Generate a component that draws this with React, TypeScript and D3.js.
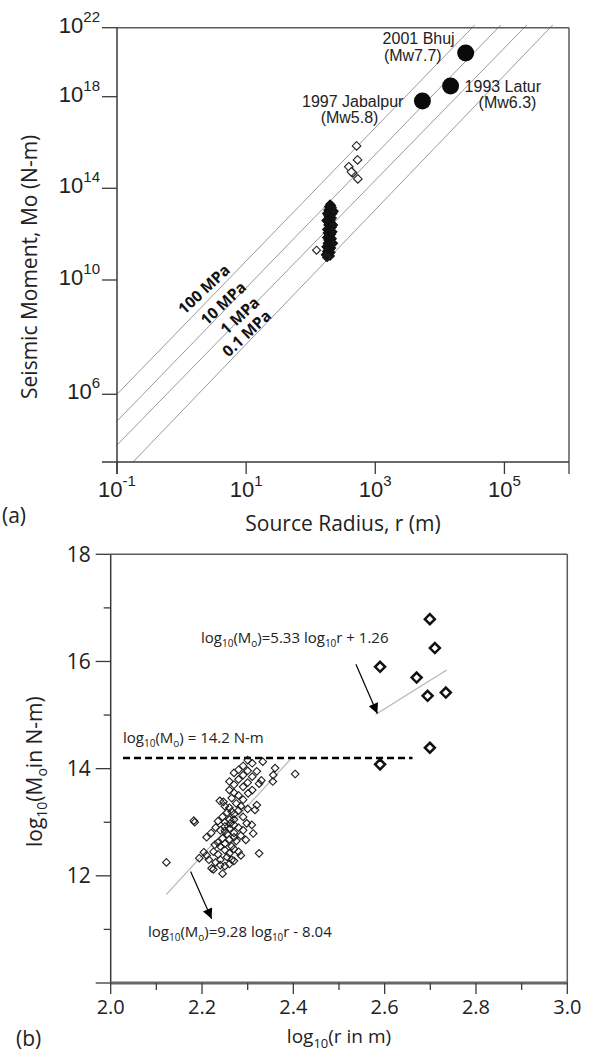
import React from "react";
import * as d3 from "d3";

// ---------- Panel (a) data ----------
const quakeNames = ["2001 Bhuj", "1993 Latur", "1997 Jabalpur"];
const quakeMw = ["(Mw7.7)", "(Mw6.3)", "(Mw5.8)"];
const quakeRadius = [25100, 14660, 5370]; // m
const quakeMoment = [3.4e20, 4.2e18, 6.5e17]; // N-m

// larger events (open diamonds), log10 r and log10 Mo
const topBigLogR = [2.71, 2.725, 2.59, 2.65, 2.73, 2.63];
const topBigLogM = [15.85, 15.24, 14.94, 14.67, 14.41, 14.72];

// dense cluster of small events (log10 r, log10 Mo)
const topClusterLogR = [
  2.30, 2.32, 2.28, 2.33, 2.30, 2.27, 2.32, 2.29, 2.34, 2.31, 2.27, 2.30, 2.33, 2.28, 2.31, 2.26,
  2.29, 2.32, 2.27, 2.30, 2.33, 2.28, 2.25, 2.31, 2.29, 2.26, 2.32, 2.28, 2.30, 2.25, 2.33, 2.27,
  2.29, 2.31, 2.26, 2.28, 2.30, 2.24, 2.32, 2.27, 2.29, 2.25, 2.31, 2.28, 2.23, 2.30, 2.26,
  2.35, 2.34, 2.35, 2.24, 2.25, 2.36,
];
const topClusterLogM = [
  13.3, 13.25, 13.2, 13.15, 13.1, 13.05, 13.0, 12.95, 12.9, 12.85, 12.8, 12.75, 12.7, 12.65, 12.6, 12.55,
  12.5, 12.45, 12.4, 12.35, 12.3, 12.25, 12.2, 12.15, 12.1, 12.05, 12.0, 11.95, 11.9, 11.85, 11.8, 11.75,
  11.7, 11.65, 11.6, 11.55, 11.5, 11.45, 11.4, 11.35, 11.3, 11.25, 11.2, 11.15, 11.1, 11.05, 11.0,
  12.4, 12.1, 11.6, 12.6, 12.9, 13.0,
];
// a few outlying events at the base of the cluster
const topOutLogR = [2.09, 2.245];
const topOutLogM = [11.3, 10.98];

// stress-drop reference lines
const stressLabels = ["100 MPa", "10 MPa", "1 MPa", "0.1 MPa"];
const stressStartLogR = [-1, -1, -1, -0.752];
const stressStartLogM = [6.0, 4.81, 3.75, 3.0];
const stressEndLogR = [4.542, 4.944, 5.347, 5.749];
const stressEndLogM = [22.16, 22.16, 22.16, 22.16];
const stressLabelLogR = [0.347, 0.646, 0.904, 1.008];
const stressLabelLogM = [9.674, 9.18, 8.75, 8.13];

// axis ticks panel (a)
const topXTickExp = [-1, 1, 3, 5];
const topYTickExp = [22, 18, 14, 10, 6];
const topYDomainExp = [3, 6, 10, 14, 18, 22];

// ---------- Panel (b) data ----------
const bigLogR = [2.699, 2.71, 2.59, 2.67, 2.694, 2.734, 2.699, 2.59];
const bigLogM = [16.79, 16.25, 15.9, 15.7, 15.36, 15.42, 14.39, 14.08];

const smallLogR = [
  2.30, 2.31, 2.29, 2.28, 2.30, 2.27, 2.29, 2.31, 2.28, 2.26, 2.30, 2.27, 2.29, 2.333, 2.36, 2.356,
  2.355, 2.404, 2.32, 2.325, 2.31, 2.33,
  2.239, 2.247, 2.25, 2.26, 2.265, 2.27, 2.26, 2.275, 2.28, 2.29, 2.301, 2.32, 2.316, 2.255, 2.27,
  2.28, 2.245, 2.26, 2.235, 2.25, 2.27, 2.29, 2.30, 2.285, 2.265,
  2.182, 2.184, 2.21, 2.22, 2.23, 2.24, 2.25, 2.26, 2.27, 2.28, 2.298, 2.309, 2.312, 2.296, 2.285,
  2.27, 2.255, 2.245, 2.235, 2.25, 2.26, 2.275, 2.265, 2.24, 2.228, 2.27, 2.29, 2.25, 2.262,
  2.122, 2.194, 2.204, 2.21, 2.225, 2.235, 2.25, 2.26, 2.27, 2.28, 2.24, 2.255, 2.265, 2.221, 2.225,
  2.245, 2.24, 2.25, 2.26, 2.27, 2.325, 2.23, 2.215, 2.285,
];
const smallLogM = [
  14.16, 14.1, 14.05, 13.98, 13.96, 13.92, 13.88, 13.85, 13.8, 13.76, 13.74, 13.7, 13.66, 14.13, 14.01, 13.88,
  13.76, 13.9, 13.95, 13.72, 13.6, 13.78,
  13.4, 13.38, 13.3, 13.27, 13.45, 13.55, 13.6, 13.35, 13.5, 13.42, 13.54, 13.32, 13.23, 13.18, 13.15,
  13.22, 13.1, 13.05, 13.02, 13.0, 13.05, 13.1, 13.25, 13.3, 13.2,
  13.03, 13.0, 12.72, 12.8, 12.9, 12.85, 12.92, 12.88, 12.95, 12.9, 12.98, 12.95, 12.79, 12.67, 12.75,
  12.8, 12.78, 12.7, 12.62, 12.6, 12.68, 12.65, 12.55, 12.55, 12.58, 12.72, 12.85, 12.84, 12.98,
  12.25, 12.33, 12.44, 12.38, 12.45, 12.4, 12.48, 12.42, 12.5, 12.45, 12.3, 12.35, 12.3, 12.14, 12.12,
  12.04, 12.2, 12.18, 12.22, 12.28, 12.42, 12.25, 12.3, 12.38,
];

const thresholdLogM = 14.2;
const thresholdRange = [2.027, 2.661];

const fitUpper = { slope: 5.33, intercept: 1.26, from: 2.58, to: 2.736 };
const fitLower = { slope: 9.28, intercept: -8.04, from: 2.122, to: 2.396 };

const arrowUpper = { x0: 2.537, y0: 15.95, x1: 2.584, y1: 15.03 };
const arrowLower = { x0: 2.175, y0: 12.08, x1: 2.221, y1: 11.2 };

const botXMajor = [2.0, 2.2, 2.4, 2.6, 2.8, 3.0];
const botXMinor = [2.1, 2.3, 2.5, 2.7, 2.9];
const botYMajor = [10, 12, 14, 16, 18];
const botYLabeled = [12, 14, 16, 18];
const botYMinor = [11, 13, 15, 17];

// ---------- Layout ----------
const W = 591;
const H = 1059;
const A = { left: 117, right: 569, top: 27.7, bottom: 462 };
const B = { left: 110.7, right: 567.3, top: 554.3, bottom: 983 };

const sansA = "'Liberation Sans', Arial, sans-serif";
const sansB = "'Open Sans', 'Noto Sans', sans-serif";

export default function App() {
  // panel (a) scales
  const xA = d3.scaleLog().domain([0.1, 1e6]).range([A.left, A.right]);
  const yA = d3
    .scaleLog()
    .domain(topYDomainExp.map((e) => Math.pow(10, e)))
    .range([A.bottom, 394.3, 280, 188.3, 96.7, A.top]);
  const pxA = (lr: number) => xA(Math.pow(10, lr));
  const pyA = (lm: number) => yA(Math.pow(10, lm));

  // panel (b) scales
  const xB = d3.scaleLinear().domain([2, 3]).range([B.left, B.right]);
  const yB = d3.scaleLinear().domain([10, 18]).range([B.bottom, B.top]);

  const diamond = (cx: number, cy: number, s: number) =>
    `M${cx},${cy - s}L${cx + s},${cy}L${cx},${cy + s}L${cx - s},${cy}Z`;

  const line = d3.line<[number, number]>();

  const axisCol = "#3a3a3a";
  const frameCol = "#5a5a5a";

  return (
    <svg
      width={W}
      height={H}
      style={{ position: "absolute", left: 0, top: 0, background: "#fff" }}
    >
      <defs>
        <marker
          id="arrowhead"
          viewBox="0 0 10 10"
          refX="10"
          refY="5"
          markerWidth="16"
          markerHeight="10"
          markerUnits="userSpaceOnUse"
          orient="auto"
        >
          <path d="M0,0L10,5L0,10Z" fill="#000" />
        </marker>
      </defs>

      {/* ================= Panel (a) ================= */}
      {stressLabels.map((lab, i) => (
        <path
          key={"sl" + i}
          d={
            line([
              [pxA(stressStartLogR[i]), pyA(stressStartLogM[i])],
              [pxA(stressEndLogR[i]), pyA(stressEndLogM[i])],
            ]) || ""
          }
          stroke="#9a9a9a"
          strokeWidth={1}
          fill="none"
        />
      ))}
      {stressLabels.map((lab, i) => (
        <text
          key={"st" + i}
          transform={`translate(${pxA(stressLabelLogR[i])},${pyA(stressLabelLogM[i])}) rotate(-43)`}
          textAnchor="middle"
          dy="0.35em"
          fontFamily={sansB}
          fontWeight={700}
          fontSize={15.5}
          fill="#111"
        >
          {lab}
        </text>
      ))}

      {/* frame & axes */}
      <line x1={A.left} x2={A.right} y1={A.top} y2={A.top} stroke={frameCol} strokeWidth={1.5} />
      <line x1={A.right} x2={A.right} y1={A.top} y2={A.bottom + 12} stroke={frameCol} strokeWidth={1.5} />
      <line x1={A.left - 15} x2={A.right} y1={A.bottom} y2={A.bottom} stroke={axisCol} strokeWidth={1.5} />
      <line x1={A.left} x2={A.left} y1={A.top} y2={A.bottom + 12} stroke={axisCol} strokeWidth={1.5} />
      {topYTickExp.map((e) => (
        <g key={"yt" + e}>
          <line
            x1={A.left - 15}
            x2={A.left}
            y1={pyA(e)}
            y2={pyA(e)}
            stroke={axisCol}
            strokeWidth={1.3}
          />
          <text
            x={A.left - 17}
            y={pyA(e) + 5}
            textAnchor="end"
            fontFamily={sansA}
            fontSize={22}
            fill="#222"
          >
            10
            <tspan dy={-11} fontSize={15}>
              {e}
            </tspan>
          </text>
        </g>
      ))}
      {topXTickExp.map((e) => (
        <g key={"xt" + e}>
          <line
            x1={pxA(e)}
            x2={pxA(e)}
            y1={A.bottom}
            y2={A.bottom + 12}
            stroke={axisCol}
            strokeWidth={1.3}
          />
          <text
            x={pxA(e)}
            y={A.bottom + 35}
            textAnchor="middle"
            fontFamily={sansA}
            fontSize={22}
            fill="#222"
          >
            10
            <tspan dy={-11} fontSize={15}>
              {e < 0 ? "-" + Math.abs(e) : e}
            </tspan>
          </text>
        </g>
      ))}
      <text
        x={(A.left + A.right) / 2}
        y={531}
        textAnchor="middle"
        fontFamily={sansB}
        fontSize={21}
        fill="#222"
      >
        Source Radius, r (m)
      </text>
      <text
        transform={`translate(37,${(A.top + A.bottom) / 2 + 22}) rotate(-90)`}
        textAnchor="middle"
        fontFamily={sansB}
        fontSize={21}
        fill="#222"
      >
        Seismic Moment, Mo (N-m)
      </text>
      <text x={2} y={523} fontFamily={sansB} fontSize={21} fill="#222">
        (a)
      </text>

      {/* cluster */}
      {topClusterLogR.map((r, i) => (
        <path
          key={"tc" + i}
          d={diamond(pxA(r), pyA(topClusterLogM[i]), 4.2)}
          fill="#151515"
          stroke="#111"
          strokeWidth={1.2}
        />
      ))}
      {topOutLogR.map((r, i) => (
        <path
          key={"to" + i}
          d={diamond(pxA(r), pyA(topOutLogM[i]), 4)}
          fill="none"
          stroke="#222"
          strokeWidth={1.1}
        />
      ))}
      {topBigLogR.map((r, i) => (
        <path
          key={"tb" + i}
          d={diamond(pxA(r), pyA(topBigLogM[i]), 4.3)}
          fill="#fff"
          stroke="#222"
          strokeWidth={1.1}
        />
      ))}
      {/* major quakes */}
      {quakeNames.map((n, i) => (
        <circle
          key={"q" + i}
          cx={xA(quakeRadius[i])}
          cy={yA(quakeMoment[i])}
          r={8.5}
          fill="#0a0a0a"
        />
      ))}
      {(() => {
        const off = [
          { a: "end", dx1: -11, dy1: -9, dx2: -24, dy2: 8 },
          { a: "start", dx1: 14, dy1: 6, dx2: 28, dy2: 22 },
          { a: "end", dx1: -19, dy1: 6, dx2: -44, dy2: 22 },
        ];
        return quakeNames.map((n, i) => {
          const cx = xA(quakeRadius[i]);
          const cy = yA(quakeMoment[i]);
          const o = off[i];
          return (
            <g key={"ql" + i} fontFamily={sansA} fontSize={16} fill="#222">
              <text x={cx + o.dx1} y={cy + o.dy1} textAnchor={o.a as any}>
                {n}
              </text>
              <text x={cx + o.dx2} y={cy + o.dy2} textAnchor={o.a as any}>
                {quakeMw[i]}
              </text>
            </g>
          );
        });
      })()}

      {/* ================= Panel (b) ================= */}
      <line x1={B.left} x2={B.right} y1={B.top} y2={B.top} stroke={frameCol} strokeWidth={1.5} />
      <line x1={B.right} x2={B.right} y1={B.top} y2={B.bottom} stroke={frameCol} strokeWidth={1.5} />
      <line x1={B.left} x2={B.left} y1={B.top} y2={B.bottom} stroke={axisCol} strokeWidth={1.5} />
      <line x1={B.left} x2={B.right} y1={B.bottom} y2={B.bottom} stroke="#666" strokeWidth={3} />
      {botYMajor.map((v) => (
        <line
          key={"byt" + v}
          x1={B.left - 15}
          x2={B.left}
          y1={yB(v)}
          y2={yB(v)}
          stroke={axisCol}
          strokeWidth={1.3}
        />
      ))}
      {botYMinor.map((v) => (
        <line
          key={"bym" + v}
          x1={B.left - 7}
          x2={B.left}
          y1={yB(v)}
          y2={yB(v)}
          stroke={axisCol}
          strokeWidth={1.3}
        />
      ))}
      {botYLabeled.map((v) => (
        <text
          key={"byl" + v}
          x={B.left - 20}
          y={yB(v) + 7.5}
          textAnchor="end"
          fontFamily={sansB}
          fontSize={21}
          fill="#222"
        >
          {v}
        </text>
      ))}
      {botXMajor.map((v) => (
        <g key={"bxt" + v}>
          <line
            x1={xB(v)}
            x2={xB(v)}
            y1={B.bottom}
            y2={B.bottom + 11}
            stroke={axisCol}
            strokeWidth={1.3}
          />
          <text
            x={xB(v)}
            y={1014}
            textAnchor="middle"
            fontFamily={sansB}
            fontSize={20}
            fill="#222"
          >
            {v.toFixed(1)}
          </text>
        </g>
      ))}
      {botXMinor.map((v) => (
        <line
          key={"bxm" + v}
          x1={xB(v)}
          x2={xB(v)}
          y1={B.bottom}
          y2={B.bottom + 7}
          stroke={axisCol}
          strokeWidth={1.3}
        />
      ))}
      <text
        x={(B.left + B.right) / 2}
        y={1043}
        textAnchor="middle"
        fontFamily={sansB}
        fontSize={19}
        fill="#222"
      >
        log
        <tspan dy={5} fontSize={13}>
          10
        </tspan>
        <tspan dy={-5}>(r in m)</tspan>
      </text>
      <text
        transform={`translate(42,${(B.top + B.bottom) / 2 + 3}) rotate(-90)`}
        textAnchor="middle"
        fontFamily={sansB}
        fontSize={21}
        fill="#222"
      >
        log
        <tspan dy={5} fontSize={14}>
          10
        </tspan>
        <tspan dy={-5}>(M</tspan>
        <tspan dy={5} fontSize={14}>
          o
        </tspan>
        <tspan dy={-5}>in N-m)</tspan>
      </text>
      <text x={16} y={1046} fontFamily={sansB} fontSize={21} fill="#222">
        (b)
      </text>

      {/* fit lines */}
      {[fitUpper, fitLower].map((f, i) => (
        <path
          key={"fit" + i}
          d={
            line([
              [xB(f.from), yB(f.slope * f.from + f.intercept)],
              [xB(f.to), yB(f.slope * f.to + f.intercept)],
            ]) || ""
          }
          stroke="#b5b5b5"
          strokeWidth={1.2}
          fill="none"
        />
      ))}
      {/* threshold */}
      <line
        x1={xB(thresholdRange[0])}
        x2={xB(thresholdRange[1])}
        y1={yB(thresholdLogM)}
        y2={yB(thresholdLogM)}
        stroke="#000"
        strokeWidth={2.4}
        strokeDasharray="7,4"
      />
      {/* arrows */}
      {[arrowUpper, arrowLower].map((a, i) => (
        <line
          key={"ar" + i}
          x1={xB(a.x0)}
          y1={yB(a.y0)}
          x2={xB(a.x1)}
          y2={yB(a.y1)}
          stroke="#000"
          strokeWidth={1.2}
          markerEnd="url(#arrowhead)"
        />
      ))}

      {/* small diamonds */}
      {smallLogR.map((r, i) => (
        <path
          key={"sd" + i}
          d={diamond(xB(r), yB(smallLogM[i]), 3.8)}
          fill="none"
          stroke="#1e1e1e"
          strokeWidth={1.1}
        />
      ))}
      {/* big diamonds */}
      {bigLogR.map((r, i) => (
        <path
          key={"bd" + i}
          d={diamond(xB(r), yB(bigLogM[i]), 5)}
          fill="#fff"
          stroke="#111"
          strokeWidth={2.5}
        />
      ))}

      {/* annotations */}
      <g fontFamily={sansB} fontSize={15} fill="#222">
        <text x={201} y={643}>
          log
          <tspan dy={4} fontSize={10}>10</tspan>
          <tspan dy={-4}>(M</tspan>
          <tspan dy={4} fontSize={10}>o</tspan>
          <tspan dy={-4}>)=5.33 log</tspan>
          <tspan dy={4} fontSize={10}>10</tspan>
          <tspan dy={-4}>r +  1.26</tspan>
        </text>
        <text x={123} y={743}>
          log
          <tspan dy={4} fontSize={10}>10</tspan>
          <tspan dy={-4}>(M</tspan>
          <tspan dy={4} fontSize={10}>o</tspan>
          <tspan dy={-4}>) = 14.2 N-m</tspan>
        </text>
        <text x={148} y={936.5}>
          log
          <tspan dy={4} fontSize={10}>10</tspan>
          <tspan dy={-4}>(M</tspan>
          <tspan dy={4} fontSize={10}>o</tspan>
          <tspan dy={-4}>)=9.28 log</tspan>
          <tspan dy={4} fontSize={10}>10</tspan>
          <tspan dy={-4}>r - 8.04</tspan>
        </text>
      </g>
    </svg>
  );
}
